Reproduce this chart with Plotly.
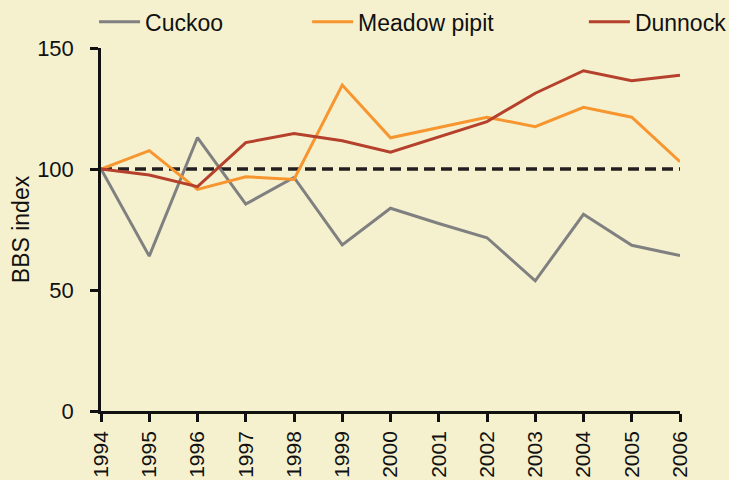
import plotly.graph_objects as go

years = [1994, 1995, 1996, 1997, 1998, 1999, 2000, 2001, 2002, 2003, 2004, 2005, 2006]
cuckoo = [100, 64, 113, 85.5, 96.5, 68.6, 83.8, 77.5, 71.6, 53.8, 81.3, 68.5, 64.2]
meadow_pipit = [100, 107.6, 91.6, 96.8, 95.7, 134.7, 112.9, 117.2, 121.4, 117.5, 125.5, 121.4, 103]
dunnock = [100, 97.5, 92.7, 110.9, 114.7, 111.7, 106.9, 113.2, 119.6, 131.3, 140.6, 136.5, 138.7]
baseline = [100, 100]
baseline_years = [1994, 2006]
y_ticks = [0, 50, 100, 150]

BG = "#f5f1cf"
FONT = "Liberation Sans, Arial, sans-serif"

fig = go.Figure()
fig.add_trace(go.Scatter(x=baseline_years, y=baseline, mode="lines",
                         line=dict(color="#231f20", width=3.5, dash="11px,6px"),
                         showlegend=False, hoverinfo="skip"))
fig.add_trace(go.Scatter(x=years, y=cuckoo, mode="lines", name="Cuckoo",
                         line=dict(color="#808080", width=3), legend="legend"))
fig.add_trace(go.Scatter(x=years, y=meadow_pipit, mode="lines", name="Meadow pipit",
                         line=dict(color="#f7952f", width=3), legend="legend2"))
fig.add_trace(go.Scatter(x=years, y=dunnock, mode="lines", name="Dunnock",
                         line=dict(color="#b5402b", width=3), legend="legend3"))

leg = dict(orientation="h", yanchor="middle", y=1.072, xanchor="left",
           bgcolor="rgba(0,0,0,0)", font=dict(family=FONT, size=23, color="#111111"),
           itemwidth=41)

fig.update_layout(
    width=729, height=480,
    paper_bgcolor=BG, plot_bgcolor=BG,
    margin=dict(l=101, r=49, t=48, b=69, autoexpand=False),
    font=dict(family=FONT, size=21, color="#111111"),
    legend=dict(leg, x=-0.012),
    legend2=dict(leg, x=0.356),
    legend3=dict(leg, x=0.834),
    xaxis=dict(range=[1994, 2006], tickmode="array", tickvals=years,
               ticktext=[str(y) for y in years], tickangle=-90, automargin=False,
               showgrid=False, zeroline=False, showline=True, linecolor="#111111",
               linewidth=2.5, ticks="outside", ticklen=8, tickwidth=2.5,
               tickcolor="#111111", tickfont=dict(size=21), ticklabelstandoff=1),
    yaxis=dict(range=[0, 150], tickmode="array", tickvals=y_ticks, automargin=False,
               showgrid=False, zeroline=False, showline=True, linecolor="#111111",
               linewidth=2.5, ticks="outside", ticklen=8, tickwidth=2.5,
               tickcolor="#111111", tickfont=dict(size=22), ticklabelstandoff=12,
               title=dict(text="BBS index", font=dict(size=23), standoff=2)),
)

fig.write_html("out.html", post_script="document.body.style.margin='0';",
               config={"displayModeBar": False})
